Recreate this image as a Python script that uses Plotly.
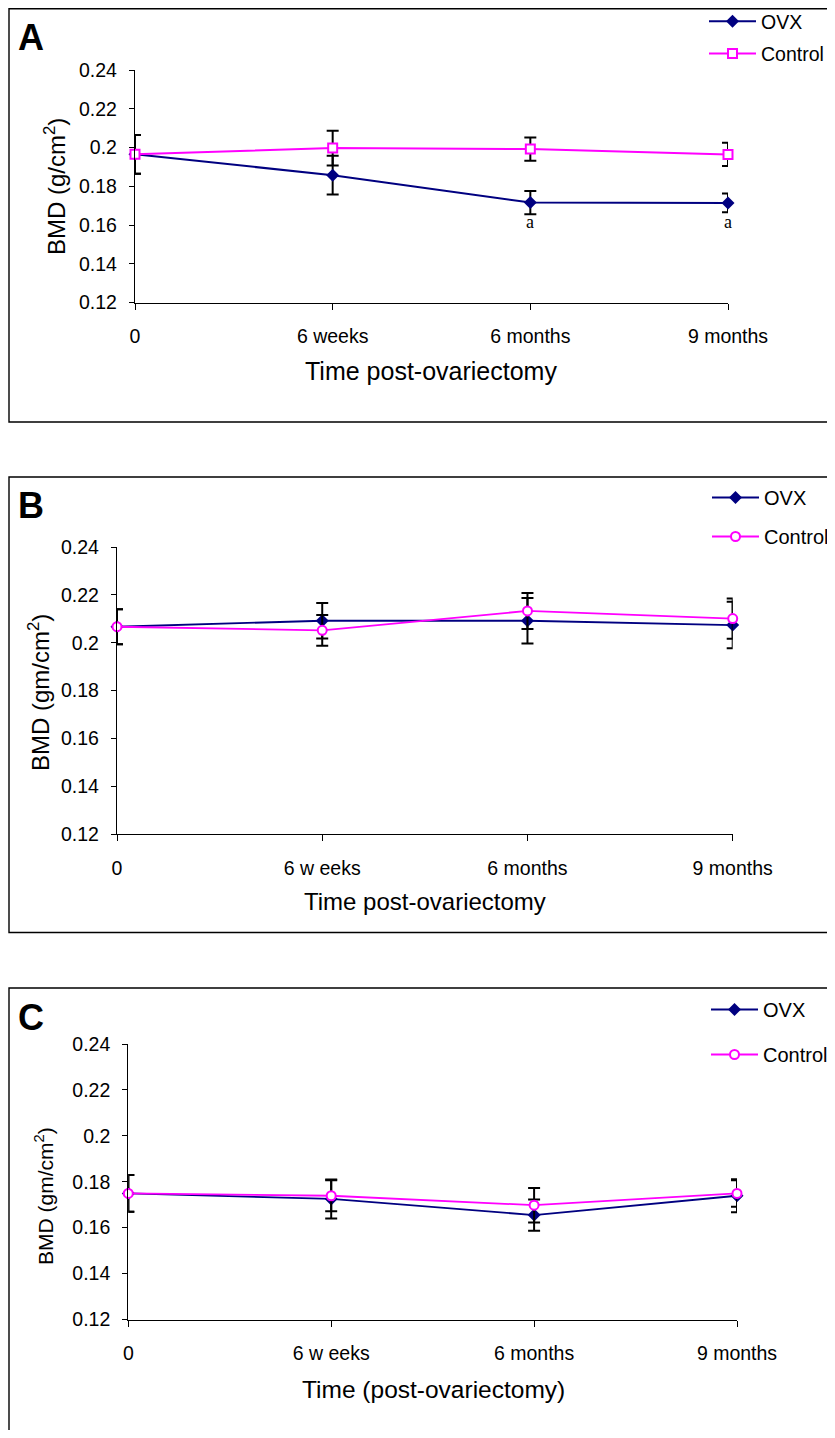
import plotly.graph_objects as go

# ---------------- data ----------------
categories = ["0", "6 weeks", "6 months", "9 months"]
categories_bc = ["0", "6 w eeks", "6 months", "9 months"]
xpos = [0, 1, 2, 3]

ovx_A = [0.1965, 0.1857, 0.1716, 0.1714]
ovx_A_err = [0.010, 0.010, 0.006, 0.0048]
ctrl_A = [0.1965, 0.1997, 0.1992, 0.1964]
ctrl_A_err = [0.010, 0.009, 0.006, 0.006]

ovx_B = [0.2067, 0.2092, 0.2092, 0.2074]
ovx_B_err = [0.0073, 0.0074, 0.0095, 0.0097]
ctrl_B = [0.2067, 0.2052, 0.2133, 0.2101]
ctrl_B_err = [0.0073, 0.0064, 0.0075, 0.0084]

ovx_C = [0.1749, 0.1725, 0.1655, 0.1739]
ovx_C_err = [0.008, 0.0085, 0.0068, 0.0072]
ctrl_C = [0.1749, 0.1739, 0.1698, 0.1749]
ctrl_C_err = [0.008, 0.0068, 0.0075, 0.0058]

yticks = [0.12, 0.14, 0.16, 0.18, 0.20, 0.22, 0.24]
yticktext = ["0.12", "0.14", "0.16", "0.18", "0.2", "0.22", "0.24"]
sig_labels = ["", "", "a", "a"]

# ---------------- styling ----------------
PAGE_W, PAGE_H = 835, 1438
OFF = 8  # default page body margin
W, H = PAGE_W - 2 * OFF, PAGE_H - 2 * OFF  # figure fits the window without scrollbars
FONT = "Liberation Sans, Arial, sans-serif"
NAVY = "#000080"
MAGENTA = "#FF00FF"


def px_x(a):
    return (a - OFF) / W


def px_y(a):
    return 1 - (a - OFF) / H


def dx(a, b):
    return [px_x(a), px_x(b)]


def dy(top, bottom):
    return [px_y(bottom), px_y(top)]


fig = go.Figure()

panels = [
    dict(key="", ovx=ovx_A, oe=ovx_A_err, ctl=ctrl_A, ce=ctrl_A_err, sym="square",
         cats=categories, leg="legend", lw=2),
    dict(key="2", ovx=ovx_B, oe=ovx_B_err, ctl=ctrl_B, ce=ctrl_B_err, sym="circle",
         cats=categories_bc, leg="legend2", lw=1.8),
    dict(key="3", ovx=ovx_C, oe=ovx_C_err, ctl=ctrl_C, ce=ctrl_C_err, sym="circle",
         cats=categories_bc, leg="legend3", lw=1.8),
]

for i, p in enumerate(panels):
    xa, ya = "x" + p["key"], "y" + p["key"]
    fig.add_trace(go.Scatter(
        x=xpos, y=p["ovx"], xaxis=xa, yaxis=ya, name="OVX", mode="lines+markers",
        line=dict(color=NAVY, width=p["lw"]),
        marker=dict(symbol="diamond", size=10, color=NAVY),
        error_y=dict(type="data", array=p["oe"], color="black", thickness=2, width=6),
        legend=p["leg"], legendgroup="ovx" + str(i), cliponaxis=False))
    fig.add_trace(go.Scatter(
        x=xpos, y=p["ctl"], xaxis=xa, yaxis=ya, name="Control", mode="lines+markers",
        line=dict(color=MAGENTA, width=p["lw"]),
        marker=dict(symbol=p["sym"], size=9, color="white", line=dict(color=MAGENTA, width=2)),
        error_y=dict(type="data", array=p["ce"], color="black", thickness=2, width=6),
        legend=p["leg"], legendgroup="ctl" + str(i), cliponaxis=False))

# axis geometry (pixel positions of each plot area in the page)
geo = [
    dict(x0=135, x1=728, top=70, bottom=302.5),
    dict(x0=117, x1=732.7, top=547, bottom=834.3),
    dict(x0=128.3, x1=737, top=1044, bottom=1319.5),
]

layout = dict(
    width=W, height=H, margin=dict(l=0, r=0, t=0, b=0, autoexpand=False),
    paper_bgcolor="white", plot_bgcolor="white",
    font=dict(family=FONT, color="black"),
)
for i, (p, g) in enumerate(zip(panels, geo)):
    k = p["key"]
    layout["xaxis" + k] = dict(
        domain=dx(g["x0"], g["x1"]), anchor="y" + k, range=[0, 3],
        tickvals=xpos, ticktext=p["cats"], showgrid=False, zeroline=False,
        showline=True, linecolor="black", linewidth=1.3,
        ticks="outside", ticklen=6, tickcolor="black", tickwidth=1.3,
        tickfont=dict(size=19.5, family=FONT), ticklabelstandoff=10,
        automargin=False, fixedrange=True)
    layout["yaxis" + k] = dict(
        domain=dy(g["top"], g["bottom"]), anchor="x" + k, range=[0.12, 0.24],
        tickvals=yticks, ticktext=yticktext, showgrid=False, zeroline=False,
        showline=True, linecolor="black", linewidth=1.3,
        ticks="outside", ticklen=5, tickcolor="black", tickwidth=1.3,
        tickfont=dict(size=19.5, family=FONT), ticklabelstandoff=8,
        automargin=False, fixedrange=True)

legend_common = dict(xanchor="left", yanchor="top", bgcolor="rgba(0,0,0,0)",
                     font=dict(size=20, family=FONT), borderwidth=0, itemwidth=47)
layout["legend"] = dict(legend_common, x=px_x(704), y=px_y(2), tracegroupgap=4,
                        font=dict(size=19.5, family=FONT))
layout["legend2"] = dict(legend_common, x=px_x(707), y=px_y(478), tracegroupgap=10)
layout["legend3"] = dict(legend_common, x=px_x(706), y=px_y(990), tracegroupgap=16)
fig.update_layout(**layout)

# frames around panels
frames = [(9, 8.7, 422), (9, 477, 932.5), (9, 988, 1470)]
for x0, t, b in frames:
    fig.add_shape(type="rect", xref="paper", yref="paper",
                  x0=px_x(x0), x1=1.05, y0=px_y(b), y1=px_y(t),
                  line=dict(color="black", width=1.4), fillcolor="rgba(0,0,0,0)")

ann = []
# panel letters
for letter, (lx, ly) in zip(["A", "B", "C"], [(31, 37), (31, 505), (31, 1017)]):
    ann.append(dict(text="<b>%s</b>" % letter, x=px_x(lx), y=px_y(ly), xref="paper", yref="paper",
                    showarrow=False, xanchor="center", yanchor="middle",
                    font=dict(size=36, family=FONT)))
# axis titles
xt = [("Time post-ovariectomy", 431, 370.7, 25),
      ("Time post-ovariectomy", 425, 901.7, 24),
      ("Time (post-ovariectomy)", 433, 1389, 24.5)]
for t, x, y, s in xt:
    ann.append(dict(text=t, x=px_x(x), y=px_y(y), xref="paper", yref="paper", showarrow=False,
                    xanchor="center", yanchor="middle", font=dict(size=s, family=FONT)))
yt = [("BMD (g/cm<sup>2</sup>)", 55, 187, 24),
      ("BMD (gm/cm<sup>2</sup>)", 39, 693, 24),
      ("BMD (gm/cm<sup>2</sup>)", 44, 1196, 21)]
for t, x, y, s in yt:
    ann.append(dict(text=t, x=px_x(x), y=px_y(y), xref="paper", yref="paper", showarrow=False,
                    textangle=-90, xanchor="center", yanchor="middle",
                    font=dict(size=s, family=FONT)))
# significance markers
for xi, lab, yv in zip(xpos, sig_labels, ovx_A):
    if lab:
        ann.append(dict(text=lab, x=xi, y=yv, xref="x", yref="y", yshift=-19, showarrow=False,
                        font=dict(size=18, family="Liberation Serif, Times New Roman, serif")))
fig.update_layout(annotations=ann)

fig.write_html("out.html")
